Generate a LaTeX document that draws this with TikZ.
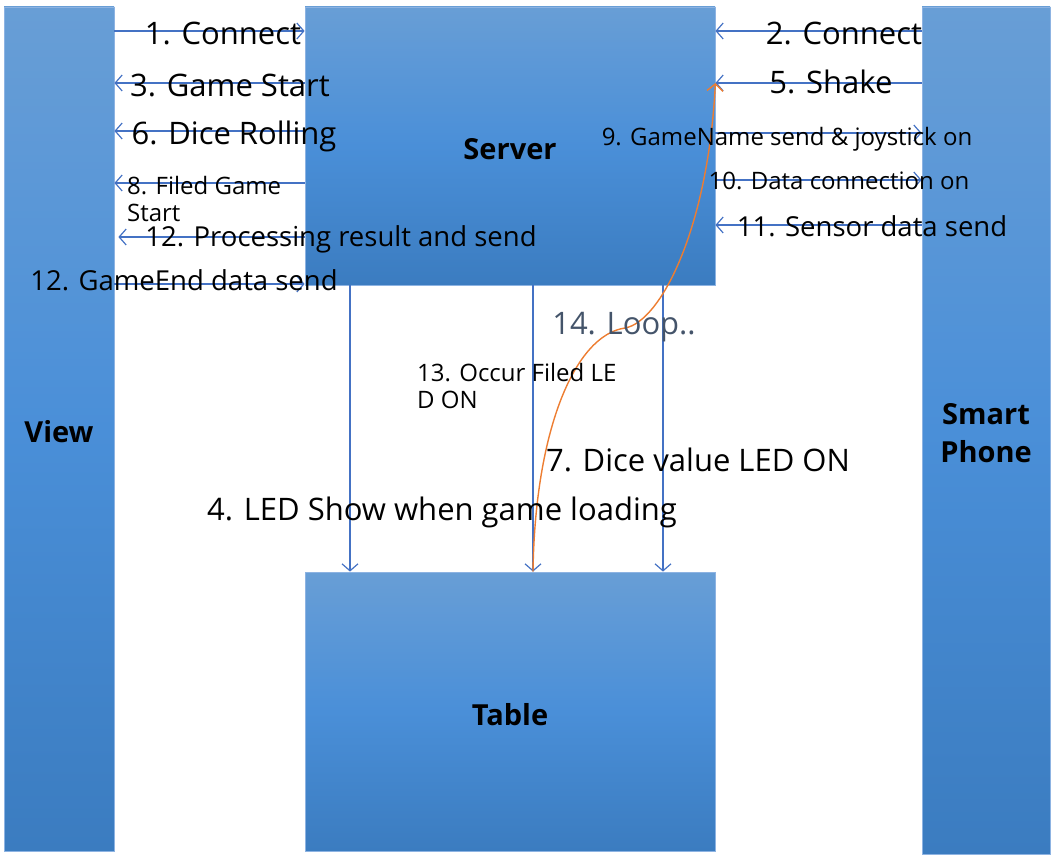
\documentclass[tikz,border=0pt]{standalone}
\usepackage{fontspec}
\setmainfont{Open Sans}
\usetikzlibrary{arrows.meta,positioning}
\definecolor{msgblue}{HTML}{4472C4}
\definecolor{loopgray}{HTML}{44546A}
\definecolor{looporange}{HTML}{ED7D31}
\definecolor{boxtop}{HTML}{689ED6}
\definecolor{boxmid}{HTML}{4A8FD8}
\definecolor{boxbot}{HTML}{3B7CC0}
\definecolor{boxedge}{HTML}{8DB3E2}

\begin{document}
\begin{tikzpicture}[
  x=1pt, y=-1pt,
  block/.style={draw=boxedge, line width=0.8pt, rectangle, top color=boxtop, bottom color=boxbot, middle color=boxmid, inner sep=0pt, align=center, text height=27pt, text depth=0pt, font=\fontsize{29}{38}\selectfont\bfseries},
  msg/.style={-{Straight Barb[length=7pt,width=16pt]}, draw=msgblue, line width=1.2pt},
  loopline/.style={-{Straight Barb[length=7pt,width=16pt]}, draw=looporange, line width=1.4pt},
  big/.style={font=\fontsize{31}{36}\selectfont, inner sep=0pt},
  mid/.style={font=\fontsize{27.5}{32}\selectfont, inner sep=0pt},
  small/.style={font=\fontsize{24}{27.5}\selectfont, inner sep=0pt, align=left}
]
  \useasboundingbox (0,0) rectangle (1055,856);

  \node[block, minimum width=110, minimum height=844] (view) at (59,429) {View};
  \node[block, minimum width=410, minimum height=278] (server) at (510,146) {Server};
  \node[block, minimum width=128, minimum height=847, text height=63pt] (phone) at (986,430.5) {Smart\\Phone};
  \node[block, minimum width=410, minimum height=279] (table) at (510,711.5) {Table};

  \draw[msg] (view.east |- 0,31) -- (server.west |- 0,31);
  \draw[msg] (server.west |- 0,83) -- (view.east |- 0,83);
  \draw[msg] (server.west |- 0,131) -- (view.east |- 0,131);
  \draw[msg] (server.west |- 0,183) -- (view.east |- 0,183);
  \draw[msg] (server.west |- 0,237) -- ([xshift=4pt]view.east |- 0,237);
  \draw[msg] (view.east |- 0,284) -- (server.west |- 0,284);

  \draw[msg] (phone.west |- 0,31) -- (server.east |- 0,31);
  \draw[msg] (phone.west |- 0,83) -- (server.east |- 0,83);
  \draw[msg] (server.east |- 0,133) -- (phone.west |- 0,133);
  \draw[msg] (server.east |- 0,180) -- (phone.west |- 0,180);
  \draw[msg] (phone.west |- 0,225) -- (server.east |- 0,225);

  \draw[msg] (server.south -| 350,0) -- (table.north -| 350,0);
  \draw[msg] (server.south -| 533,0) -- (table.north -| 533,0);
  \draw[msg] (server.south -| 663,0) -- (table.north -| 663,0);

  \draw[loopline] (table.north -| 533,0) .. controls (535,430) and (575,335) .. (625,328)
    .. controls (660,322) and (708,230) .. (server.east |- 0,83);

  \node[big] (connect1) at (223,33) {1. Connect};
  \node[big] (gamestart) at (230,85) {3. Game Start};
  \node[big] (dicerolling) at (234,136) {6. Dice Rolling};
  \node[small, anchor=west] (filedgame) at (127,199) {8. Filed Game\\Start};
  \node[mid] (processing) at (341,239) {12. Processing result and send};
  \node[mid] (gameend) at (184,280) {12. GameEnd data send};

  \node[big] (connect2) at (844,33) {2. Connect};
  \node[big] (shake) at (831,82) {5. Shake};
  \node[small] (gamename) at (787,139) {9. GameName send \& joystick on};
  \node[small] (dataconn) at (839,181) {10. Data connection on};
  \node[mid] (sensor) at (872,226) {11. Sensor data send};

  \node[big, text=loopgray] (looplbl) at (624,327) {14. Loop..};
  \node[small, anchor=west] (occur) at (417,386) {13. Occur Filed LE\\D ON};
  \node[big] (dicevalue) at (698,460) {7. Dice value LED ON};
  \node[big] (ledshow) at (442,512) {4. LED Show when game loading};
\end{tikzpicture}
\end{document}
